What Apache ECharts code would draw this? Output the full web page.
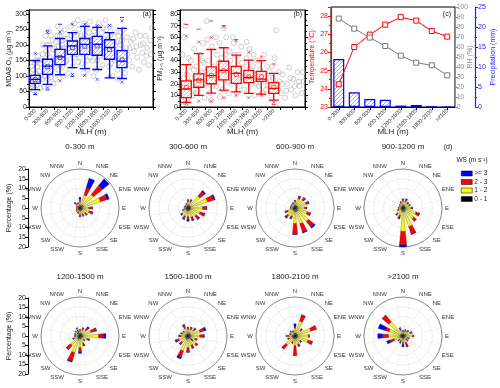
<!DOCTYPE html>
<html>
<head>
<meta charset="utf-8">
<script src="https://cdn.jsdelivr.net/npm/echarts@6/dist/echarts.min.js"></script>
<style>
html, body { margin: 0; padding: 0; background: #fff; }
#main { width: 500px; height: 388px; }
</style>
</head>
<body>
<div id="main"></div>
<script>
// MLH bins
const mlhCats = ['0-300', '300-600', '600-900', '900-1200', '1200-1500', '1500-1800', '1800-2100', '>2100'];

// (a) MDA8 O3 boxes: [min, Q1, median, Q3, max]
const o3Box = [
    [56, 76, 89, 102, 150],
    [73, 105, 132, 154, 197],
    [104, 137, 162, 186, 221],
    [127, 170, 197, 213, 240],
    [124, 170, 202, 221, 260],
    [121, 167, 202, 228, 257],
    [94, 154, 192, 217, 240],
    [92, 127, 148, 182, 254]
];
const o3Mean = [88, 130, 160, 192, 196, 197, 185, 152];
const o3Cross = [[0, 173], [0, 43], [1, 240], [1, 62], [2, 242], [2, 85], [3, 267], [3, 105],
    [4, 267], [4, 102], [5, 262], [5, 89], [6, 263], [6, 97], [7, 278], [7, 80]];
const o3Dash = [[0, 40], [1, 246], [1, 55], [2, 267], [3, 98], [7, 289]];
// raw points [MLH, O3]
const o3Points = [
    [40, 60], [80, 75], [120, 95], [160, 110], [200, 130], [230, 85], [260, 150], [100, 120], [180, 70], [280, 100], [60, 90], [140, 140], [220, 165], [270, 60], [110, 55],
    [30, 100], [70, 130], [90, 65], [130, 80], [170, 150], [210, 100], [250, 115], [290, 140],
    [320, 90], [350, 150], [380, 120], [410, 180], [440, 200], [470, 110], [500, 160], [530, 230], [560, 140], [590, 75], [340, 200], [420, 130], [480, 245], [520, 95], [580, 185], [360, 65], [450, 170],
    [330, 170], [370, 100], [400, 230], [430, 145], [460, 90], [490, 200], [550, 120], [570, 215],
    [620, 140], [650, 210], [680, 180], [710, 120], [740, 230], [770, 160], [800, 200], [830, 100], [860, 250], [890, 175], [640, 90], [700, 260], [760, 135], [820, 215], [880, 145], [720, 195],
    [610, 190], [660, 160], [690, 230], [730, 150], [780, 240], [810, 130], [850, 190], [870, 220],
    [910, 150], [940, 220], [970, 180], [1000, 260], [1030, 200], [1060, 130], [1090, 240], [1120, 190], [1150, 170], [1180, 280], [960, 110], [1020, 230], [1080, 160], [1140, 210], [1190, 145],
    [920, 190], [990, 205], [1050, 175], [1100, 270], [1170, 230],
    [1210, 250], [1240, 190], [1270, 140], [1300, 220], [1330, 270], [1360, 175], [1390, 205], [1420, 120], [1450, 240], [1480, 160], [1260, 230], [1320, 110], [1380, 260], [1440, 190], [1490, 215],
    [1230, 160], [1280, 200], [1350, 235], [1410, 150], [1470, 275],
    [1510, 200], [1540, 150], [1570, 245], [1600, 180], [1630, 120], [1660, 225], [1690, 270], [1720, 165], [1750, 210], [1780, 135], [1560, 100], [1620, 255], [1700, 190], [1760, 240],
    [1530, 230], [1580, 170], [1650, 150], [1740, 185], [1790, 255],
    [1810, 220], [1840, 160], [1870, 250], [1900, 190], [1930, 130], [1960, 230], [1990, 175], [2020, 100], [2050, 210], [2080, 150], [1850, 280], [1950, 260], [2060, 240],
    [1820, 195], [1890, 215], [1980, 140], [2090, 200],
    [2110, 180], [2140, 120], [2170, 230], [2200, 160], [2230, 200], [2260, 140], [2290, 250], [2320, 110], [2350, 190], [2380, 170], [2150, 90], [2250, 215],
    [2120, 210], [2210, 240], [2300, 180], [2370, 225],
    [2420, 150], [2460, 210], [2500, 130], [2540, 180], [2580, 240], [2620, 160], [2660, 120], [2700, 200], [2740, 175], [2780, 145], [2820, 230], [2860, 190], [2900, 135], [2950, 170], [2980, 255],
    [2440, 190], [2520, 220], [2600, 195], [2690, 230], [2760, 205], [2840, 165], [2930, 215]
];

// (b) PM2.5 boxes
const pmBox = [
    [4, 8, 15.5, 22.5, 36.5],
    [10, 17, 23.4, 28.6, 46],
    [12, 20, 27, 34.5, 49.5],
    [14.6, 23.4, 31.5, 39.4, 51],
    [13, 20.4, 29, 35, 44.6],
    [11.7, 21, 25.4, 31.5, 40.3],
    [11, 22, 24, 30.7, 40],
    [6, 11.7, 16, 21, 29]
];
const pmMean = [17, 23, 27, 31, 28, 26, 26, 17];
const pmCross = [[0, 61], [0, 3], [1, 56], [1, 5], [2, 60], [2, 5], [3, 69], [3, 8],
    [4, 57], [4, 10], [5, 47], [5, 8], [6, 43], [6, 10], [7, 37], [7, 4]];
const pmDash = [[0, 71], [1, 67], [2, 74], [3, 70], [4, 58], [7, 2]];
const pmPoints = [
    [40, 5], [80, 12], [120, 20], [160, 28], [200, 8], [240, 35], [280, 15], [60, 45], [100, 60], [150, 3], [220, 22], [260, 40], [130, 70],
    [20, 18], [90, 25], [170, 14], [210, 42], [290, 25],
    [320, 10], [360, 25], [400, 35], [440, 18], [480, 45], [520, 30], [560, 55], [590, 8], [340, 50], [420, 14], [500, 22], [570, 38],
    [330, 32], [380, 12], [460, 28], [540, 40],
    [620, 20], [640, 74], [680, 40], [720, 12], [760, 52], [800, 30], [840, 25], [880, 45], [660, 58], [740, 6], [820, 35], [870, 18],
    [600, 30], [700, 28], [780, 18], [860, 60],
    [910, 28], [950, 55], [990, 42], [1030, 15], [1070, 35], [1110, 60], [1150, 22], [1190, 48], [960, 9], [1050, 68], [1130, 30],
    [930, 38], [1010, 25], [1090, 45], [1170, 12],
    [1210, 40], [1250, 20], [1290, 55], [1330, 32], [1370, 12], [1410, 45], [1450, 26], [1490, 38], [1270, 60], [1430, 18],
    [1230, 30], [1310, 45], [1390, 25], [1470, 52],
    [1510, 30], [1550, 15], [1590, 42], [1630, 25], [1670, 50], [1710, 20], [1750, 35], [1790, 10], [1600, 56],
    [1530, 22], [1610, 35], [1690, 28], [1770, 45],
    [1810, 28], [1850, 40], [1890, 18], [1930, 32], [1970, 12], [2010, 45], [2050, 22], [2090, 35],
    [1830, 20], [1910, 25], [1990, 30], [2070, 15],
    [2110, 18], [2150, 30], [2190, 10], [2230, 25], [2270, 42], [2310, 66], [2350, 15], [2390, 22],
    [2130, 25], [2210, 35], [2290, 20], [2370, 30],
    [2420, 12], [2470, 28], [2520, 8], [2570, 20], [2620, 34], [2670, 15], [2720, 24], [2770, 10], [2820, 30], [2870, 18], [2920, 12], [2970, 22],
    [2450, 20], [2550, 14], [2650, 25], [2750, 18], [2850, 22], [2950, 30]
];

// (c) meteorology per bin
const tempVals = [24.25, 26.3, 26.98, 27.53, 27.94, 27.75, 27.18, 26.87];
const rhVals = [88.4, 78.4, 69.4, 61, 51.3, 44.3, 41.7, 31.7];
const precipVals = [12, 3.7, 2, 1.8, 0.35, 0.5, 0.1, 0];

// (d) wind roses
const dirs = ['N', 'NNE', 'NE', 'ENE', 'E', 'ESE', 'SE', 'SSE', 'S', 'SSW', 'SW', 'WSW', 'W', 'WNW', 'NW', 'NNW'];
const roseTitles = ['0-300 m', '300-600 m', '600-900 m', '900-1200 m', '1200-1500 m', '1500-1800 m', '1800-2100 m', '>2100 m'];
const wsNames = ['0 - 1', '1 - 2', '2 - 3', '>= 3'];
const wsColors = ['#000000', '#ffff00', '#ff0000', '#0000ff'];
// percentage of each speed class, per rose, per direction
const ws01 = [
    [1.5, 1.5, 2, 2, 1.5, 1.5, 1.5, 1.5, 1.5, 1.2, 1.2, 1.2, 1.2, 1.2, 1.2, 1.2],
    [1.5, 1.5, 1.5, 1.5, 1.5, 1.5, 1.5, 1.5, 1.5, 1.5, 1.5, 1.2, 1.2, 1, 1, 1.2],
    [1.5, 1.5, 1.5, 1.5, 1.5, 1.5, 2, 2, 2, 1.5, 1.5, 1.5, 1.2, 1.2, 1.2, 1.2],
    [1.5, 1.5, 1.3, 1.3, 1.5, 1.5, 1.8, 2, 2, 1.5, 1.5, 1.2, 1.2, 1, 1.2, 1.2],
    [1.5, 1.5, 1.5, 1.5, 1.5, 1.5, 1.2, 1.5, 1.5, 2, 1.8, 1.5, 1.2, 1.2, 2, 3.5],
    [1.5, 1.5, 1.5, 1.5, 1.5, 1.5, 3.5, 1.5, 1.5, 2, 1.5, 1.5, 1.5, 1.2, 1.2, 1.2],
    [1.5, 1.5, 1.5, 1.5, 1.5, 1.5, 1.5, 1.5, 1.5, 1.5, 1.5, 1.5, 1.5, 1.2, 1.2, 1.2],
    [1.2, 1.2, 1.2, 1.5, 1.5, 1.2, 1.2, 1.5, 1.5, 1.2, 1.2, 1.5, 1.5, 1.5, 1.5, 1.2]
];
const ws12 = [
    [1.5, 5.5, 7, 9, 3, 3.5, 2, 1.8, 1.8, 1, 0.8, 0.5, 0.5, 0.5, 1, 1],
    [1.5, 1.8, 6.5, 9, 6, 5, 4, 3.5, 3, 3, 2.5, 1, 0.5, 0.6, 0.6, 0.8],
    [1.5, 3.5, 4, 4.5, 3.5, 5, 7, 6.5, 6, 3, 3.5, 2.5, 0.8, 0.8, 0.8, 1],
    [1.8, 2, 1.7, 1.8, 2.5, 5.5, 5.5, 8, 10, 2.5, 2.3, 1.2, 0.9, 0.7, 0.9, 1.3],
    [1.2, 1.8, 2.5, 4.5, 8, 2.3, 1.3, 2.5, 4.5, 7, 4.5, 1.5, 1, 1, 0.8, 0.6],
    [1.8, 2, 2.5, 5, 4.5, 2.3, 2, 3.5, 4.5, 6, 2.8, 3.5, 2, 1.8, 1.5, 3],
    [2.5, 6.5, 2.3, 7, 5.3, 5.5, 2, 3, 3.5, 1.7, 4.5, 1.5, 1.5, 1, 1.3, 1],
    [1, 1.2, 1.6, 2.5, 3.5, 1.2, 1, 2, 1.8, 1.3, 1.2, 3.3, 6, 6, 8, 2]
];
const ws23 = [
    [1.5, 4, 6, 3.5, 2, 1.8, 1.2, 1, 0.8, 0.6, 0.4, 0.2, 0.2, 0.2, 1, 0.6],
    [1, 1, 3, 3.3, 2, 2.2, 1.8, 1.5, 1.7, 1.3, 0.7, 0.6, 0.3, 0.3, 0.3, 0.4],
    [0.8, 1.3, 1.4, 1.4, 1, 1.8, 3.5, 4.5, 5.2, 1.2, 1.2, 1.2, 0.4, 0.4, 0.4, 0.6],
    [1, 1, 0.8, 0.7, 0.9, 1.8, 1.5, 4, 6.8, 1.5, 1, 0.5, 0.3, 0.3, 0.3, 0.8],
    [0.6, 1, 1.6, 2.6, 2.5, 1, 0.8, 1.2, 2, 4.5, 2.8, 0.8, 0.6, 0.6, 0.5, 0.2],
    [0.9, 1, 1.2, 2.2, 2.3, 1, 0.9, 1.5, 2, 3.3, 1.3, 1.2, 1.1, 0.8, 0.7, 1.8],
    [0.8, 3.4, 1, 3, 0.6, 2.4, 0.8, 1, 5, 0.7, 2.8, 0.9, 1.4, 0.6, 0.8, 0.6],
    [0.5, 0.8, 0.9, 0.8, 0.5, 0.7, 1, 2.2, 1, 1, 0.8, 2.3, 3, 2, 4.4, 1]
];
const ws3 = [
    [1, 5, 4.4, 1.2, 0, 0.2, 0.3, 0.2, 0.4, 0.2, 0.1, 0.1, 0.1, 0.1, 0.8, 0.2],
    [0.3, 0.3, 0.7, 0.8, 0.2, 0.5, 0.6, 0.5, 0.6, 0.5, 0.3, 0.2, 0, 0.1, 0.1, 0.1],
    [0.2, 0.2, 0.3, 0.2, 0, 0.2, 1, 0.5, 0.5, 0.3, 0.7, 0.3, 0.1, 0.1, 0.1, 0.2],
    [0.4, 0.5, 0.2, 0.2, 0.1, 0.2, 0.2, 0.3, 1.2, 0.5, 0.2, 0.1, 0.1, 0, 0.1, 0.2],
    [0.2, 0.2, 0.7, 0.4, 1.3, 0.5, 0.2, 0.3, 1, 0.6, 0.2, 0.2, 0.2, 0.2, 0.2, 0.1],
    [0.3, 0.3, 0.3, 1, 0.1, 0.2, 0.3, 0.3, 0.5, 1, 0.4, 0.8, 0.2, 0.2, 0.1, 0.3],
    [1.5, 0, 0.2, 0, 0, 0, 0.2, 0.2, 0, 0.1, 0, 0.1, 0.2, 0.2, 0.2, 0.2],
    [0.3, 0.3, 0.3, 0.2, 0, 0.4, 0.3, 0.3, 1.3, 0.5, 0.3, 1.7, 2.5, 3.8, 0, 0.3]
];
const wsClasses = [ws01, ws12, ws23, ws3];

const FONT = 'Liberation Sans';
const roseCenters = [[80, 208], [188, 208], [295, 208], [403, 208], [80, 336], [188, 336], [295, 336], [403, 336]];

// diagonal hatch fill
function hatch(color, bg) {
    const c = document.createElement('canvas');
    c.width = 4; c.height = 4;
    const ctx = c.getContext('2d');
    if (bg) { ctx.fillStyle = bg; ctx.fillRect(0, 0, 4, 4); }
    ctx.strokeStyle = color;
    ctx.lineWidth = 0.7;
    ctx.beginPath();
    ctx.moveTo(-1, 1); ctx.lineTo(1, -1);
    ctx.moveTo(0, 4); ctx.lineTo(4, 0);
    ctx.moveTo(3, 5); ctx.lineTo(5, 3);
    ctx.stroke();
    return { image: c, repeat: 'repeat' };
}

const crossPath = 'path://M0,0L10,10M10,0L0,10';

function boxYAxis(grid, max, interval, name) {
    return [{
        type: 'value', gridIndex: grid, min: 0, max: max, interval: interval,
        axisLine: { show: true, lineStyle: { color: '#000', width: 1 } },
        axisTick: { show: true, length: 3, lineStyle: { color: '#000' } },
        minorTick: { show: true, splitNumber: 2, length: 2, lineStyle: { color: '#000' } },
        axisLabel: { fontSize: 7, margin: 2, color: '#222', formatter: v => (v % interval === 0 ? v : '') },
        splitLine: { show: false },
        name: name, nameLocation: 'middle', nameGap: 16, nameMoveOverlap: false,
        nameTextStyle: { fontSize: 7, color: '#222' }
    }, {
        type: 'value', gridIndex: grid, min: 0, max: max, interval: interval, position: 'right',
        axisLine: { show: true, lineStyle: { color: '#000', width: 1 } },
        axisTick: { show: true, length: 3, lineStyle: { color: '#000' } },
        minorTick: { show: true, splitNumber: 2, length: 2, lineStyle: { color: '#000' } },
        axisLabel: { show: false },
        splitLine: { show: false }
    }];
}

function boxXAxis(grid) {
    return [{
        type: 'category', gridIndex: grid, data: mlhCats.concat(['', '']),
        axisLine: { lineStyle: { color: '#000', width: 1 } },
        axisTick: { show: true, length: 3, lineStyle: { color: '#000' } },
        axisLabel: { rotate: 45, fontSize: 5.5, margin: 3, interval: 0, color: '#222' },
        name: 'MLH (m)', nameLocation: 'middle', nameGap: 21, nameMoveOverlap: false,
        nameTextStyle: { fontSize: 8, color: '#222' }
    }, {
        type: 'value', gridIndex: grid, min: 0, max: 3000, show: false
    }];
}

function boxSeries(xa, ya, color, light, points, boxes, means, crosses, dashes) {
    return [{
        type: 'scatter', xAxisIndex: xa + 1, yAxisIndex: ya, data: points, symbolSize: 5, z: 1,
        itemStyle: { color: 'transparent', borderColor: '#a8a8a8', borderWidth: 0.7 }
    }, {
        type: 'boxplot', xAxisIndex: xa, yAxisIndex: ya, data: boxes, boxWidth: [10, 10], z: 3,
        itemStyle: { color: hatch(light, 'rgba(255,255,255,0.6)'), borderColor: color, borderWidth: 1.3 }
    }, {
        type: 'scatter', xAxisIndex: xa, yAxisIndex: ya, data: means.map((v, i) => [i, v]), z: 4,
        symbol: 'rect', symbolSize: 4,
        itemStyle: { color: 'transparent', borderColor: color, borderWidth: 0.8 }
    }, {
        type: 'scatter', xAxisIndex: xa, yAxisIndex: ya, data: crosses, z: 4,
        symbol: crossPath, symbolSize: 3,
        itemStyle: { color: 'transparent', borderColor: color, borderWidth: 0.8 }
    }, {
        type: 'scatter', xAxisIndex: xa, yAxisIndex: ya, data: dashes, z: 4,
        symbol: 'rect', symbolSize: [4, 1],
        itemStyle: { color: color }
    }];
}

const chart = echarts.init(document.getElementById('main'));

const polar = roseCenters.map(c => ({ center: c, radius: 39 }));
const angleAxis = roseCenters.map((c, i) => ({
    polarIndex: i, type: 'category', data: dirs, startAngle: 101.25, clockwise: true,
    axisLine: { show: true, lineStyle: { color: '#8c8c8c', width: 1 } },
    axisTick: { show: false },
    axisLabel: { fontSize: 6, color: '#333', margin: 3, interval: 0 },
    splitLine: { show: true, lineStyle: { color: '#e6e6e6', width: 0.5 } }
}));
const radiusAxis = roseCenters.map((c, i) => ({
    polarIndex: i, type: 'value', min: 0, max: 20, interval: 5,
    axisLine: { show: false }, axisTick: { show: false }, axisLabel: { show: false },
    splitLine: { show: true, lineStyle: { color: '#e0e0e0', width: 0.6 } }
}));

const roseSeries = [];
roseCenters.forEach((c, i) => {
    wsClasses.forEach((cls, k) => {
        roseSeries.push({
            type: 'bar', coordinateSystem: 'polar', polarIndex: i, stack: 'rose' + i,
            name: wsNames[k], data: cls[i], barCategoryGap: '50%',
            itemStyle: { color: wsColors[k], borderColor: '#222', borderWidth: 0.3 }
        });
    });
});

function pctAxis(grid) {
    return {
        type: 'value', gridIndex: grid, min: -20, max: 20, interval: 5,
        axisLine: { show: true, lineStyle: { color: '#000', width: 1 } },
        axisTick: { show: true, length: 3, lineStyle: { color: '#000' } },
        axisLabel: { fontSize: 7, margin: 2, color: '#222', formatter: v => Math.abs(v) },
        splitLine: { show: false },
        name: 'Percentage (%)', nameLocation: 'middle', nameGap: 15, nameMoveOverlap: false,
        nameTextStyle: { fontSize: 7, color: '#222' }
    };
}

function txt(text, x, y, size, color, align, rot) {
    return {
        type: 'text', x: x, y: y, rotation: rot || 0,
        style: { text: text, fontSize: size, fill: color || '#222', fontFamily: FONT,
            textAlign: align || 'center', textVerticalAlign: 'middle' }
    };
}

const graphics = [
    txt('(a)', 151, 14, 7, '#222', 'right'),
    txt('(b)', 302, 14, 7, '#222', 'right'),
    txt('(c)', 451, 14, 7, '#222', 'right'),
    txt('(d)', 448, 147, 7, '#222', 'center'),
    txt('WS (m s⁻¹)', 472, 160, 6.5, '#222', 'center')
];
roseTitles.forEach((t, i) => {
    graphics.push(txt(t, roseCenters[i][0], i < 4 ? 147 : 277, 8, '#222', 'center'));
});

const option = {
    animation: false,
    textStyle: { fontFamily: FONT },
    grid: [
        { left: 29, top: 10, width: 124, height: 97, show: true, borderColor: '#000', borderWidth: 1 },
        { left: 180, top: 10, width: 125, height: 97, show: true, borderColor: '#000', borderWidth: 1 },
        { left: 331, top: 7, width: 124, height: 100, show: true, borderColor: '#000', borderWidth: 1 },
        { left: 28, top: 169, width: 1, height: 78 },
        { left: 28, top: 298, width: 1, height: 76 }
    ],
    xAxis: [].concat(boxXAxis(0), boxXAxis(1), [{
        type: 'category', gridIndex: 2, data: mlhCats,
        axisLine: { lineStyle: { color: '#000', width: 1 } },
        axisTick: { show: true, length: 3, alignWithLabel: true, lineStyle: { color: '#000' } },
        axisLabel: { rotate: 45, fontSize: 5.5, margin: 3, interval: 0, color: '#222' },
        name: 'MLH (m)', nameLocation: 'middle', nameGap: 21, nameMoveOverlap: false,
        nameTextStyle: { fontSize: 8, color: '#222' }
    }, { gridIndex: 3, type: 'value', show: false }, { gridIndex: 4, type: 'value', show: false }]),
    yAxis: [].concat(
        boxYAxis(0, 313, 50, 'MDA8 O₃ (μg m⁻³)'),
        boxYAxis(1, 83.5, 10, 'PM₂.₅ (μg m⁻³)'),
        [{
            type: 'value', gridIndex: 2, min: 23, max: 28.5, interval: 1,
            axisLine: { show: true, lineStyle: { color: '#ff0000', width: 1.2 } },
            axisTick: { show: true, length: 3, lineStyle: { color: '#ff0000' } },
            minorTick: { show: true, splitNumber: 2, length: 2, lineStyle: { color: '#ff0000' } },
            axisLabel: { fontSize: 7, margin: 3, color: '#ff0000', formatter: v => (v % 1 === 0 ? v : '') },
            splitLine: { show: false },
            name: 'Temperature (°C)', nameLocation: 'middle', nameGap: 15, nameMoveOverlap: false,
            nameTextStyle: { fontSize: 7, color: '#ff0000' }
        }, {
            type: 'value', gridIndex: 2, min: 0, max: 100, interval: 10, position: 'right',
            axisLine: { show: true, lineStyle: { color: '#8c8c8c', width: 1 } },
            axisTick: { show: true, length: 3, lineStyle: { color: '#8c8c8c' } },
            axisLabel: { fontSize: 6.5, margin: 2, color: '#8c8c8c' },
            splitLine: { show: false },
            name: 'RH (%)', nameLocation: 'middle', nameGap: 12, nameMoveOverlap: false,
            nameTextStyle: { fontSize: 7, color: '#8c8c8c' }
        }, {
            type: 'value', gridIndex: 2, min: 0, max: 25, interval: 5, position: 'right', offset: 20,
            axisLine: { show: true, lineStyle: { color: '#2020ff', width: 1.2 } },
            axisTick: { show: true, length: 3, lineStyle: { color: '#2020ff' } },
            minorTick: { show: true, splitNumber: 2, length: 2, lineStyle: { color: '#2020ff' } },
            axisLabel: { fontSize: 7, margin: 3, color: '#2020ff' },
            splitLine: { show: false },
            name: 'Precipitation (mm)', nameLocation: 'middle', nameGap: 15, nameMoveOverlap: false,
            nameTextStyle: { fontSize: 7, color: '#2020ff' }
        }],
        [pctAxis(3), pctAxis(4)]
    ),
    polar: polar,
    angleAxis: angleAxis,
    radiusAxis: radiusAxis,
    legend: {
        data: ['>= 3', '2 - 3', '1 - 2', '0 - 1'],
        orient: 'vertical', left: 456, top: 165, itemWidth: 11, itemHeight: 5, itemGap: 1.5,
        icon: 'rect', selectedMode: false,
        textStyle: { fontSize: 6.5, color: '#222', padding: [0, 0, 0, -3] },
        itemStyle: { borderColor: '#000', borderWidth: 0.5 }
    },
    graphic: graphics,
    series: [].concat(
        boxSeries(0, 0, '#0000ff', '#8f8fff', o3Points, o3Box, o3Mean, o3Cross, o3Dash),
        boxSeries(2, 2, '#ff0000', '#ff9a9a', pmPoints, pmBox, pmMean, pmCross, pmDash),
        [{
            type: 'bar', xAxisIndex: 4, yAxisIndex: 6, data: precipVals, barWidth: 11,
            itemStyle: { color: hatch('#8080ff'), borderColor: '#0000ff', borderWidth: 1.2 }
        }, {
            type: 'line', xAxisIndex: 4, yAxisIndex: 4, data: tempVals, symbol: 'rect', symbolSize: 5,
            lineStyle: { color: '#ff0000', width: 1 },
            itemStyle: { color: '#fff', borderColor: '#ff0000', borderWidth: 1 }
        }, {
            type: 'line', xAxisIndex: 4, yAxisIndex: 5, data: rhVals, symbol: 'rect', symbolSize: 5,
            lineStyle: { color: '#7a7a7a', width: 1 },
            itemStyle: { color: '#fff', borderColor: '#7a7a7a', borderWidth: 1 }
        }],
        roseSeries
    )
};
chart.setOption(option);
</script>
</body>
</html>
